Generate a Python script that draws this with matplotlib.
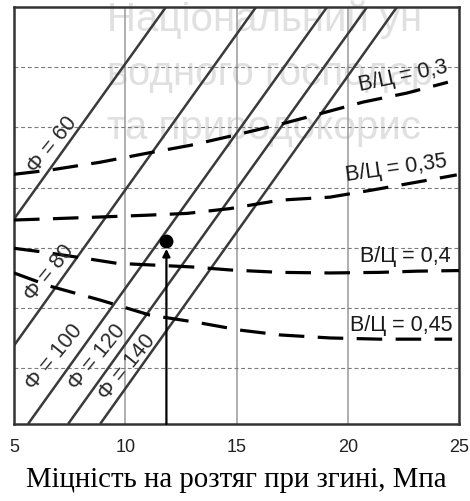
import matplotlib
matplotlib.use("Agg")
import matplotlib.pyplot as plt

# --- data -------------------------------------------------------------
x_ticks = [5, 10, 15, 20, 25]
x_tick_labels = ["5", "10", "15", "20", "25"]
y_grid = [1, 2, 3, 4, 5, 6]
x_lim = (5, 25)
y_lim = (0.07, 7.0)

# constant-Φ lines: x where each line meets the bottom and the top of the field
phi_labels = ["Φ = 60", "Φ = 80", "Φ = 100", "Φ = 120", "Φ = 140"]
phi_x_bottom = [-1.60, 2.48, 5.63, 7.43, 8.87]
phi_x_top = [11.83, 15.88, 19.07, 20.87, 22.21]
phi_label_x = [6.71, 6.60, 6.80, 8.73, 10.08]
phi_label_y = [4.70, 2.58, 1.18, 1.17, 1.02]

# water/cement ratio curves
wc_03_x = [5.0, 6.62, 8.87, 10.98, 12.91, 14.93, 16.96, 18.89, 20.69, 22.66, 24.5]
wc_03_y = [4.22, 4.29, 4.42, 4.57, 4.70, 4.87, 5.05, 5.24, 5.42, 5.57, 5.75]
wc_035_x = [5.0, 6.62, 8.87, 10.98, 12.78, 14.71, 16.96, 19.2, 21.13, 23.11, 24.9]
wc_035_y = [3.46, 3.48, 3.51, 3.54, 3.57, 3.65, 3.79, 3.84, 3.96, 4.09, 4.21]
wc_04_x = [5.0, 6.26, 8.42, 9.63, 11.34, 13.0, 14.71, 16.96, 19.2, 21.45, 23.11, 25.0]
wc_04_y = [2.99, 2.93, 2.81, 2.74, 2.71, 2.68, 2.63, 2.59, 2.58, 2.59, 2.61, 2.62]
wc_045_x = [5.0, 6.62, 8.87, 11.11, 13.36, 15.16, 16.96, 19.2, 21.45, 24.69]
wc_045_y = [2.58, 2.36, 2.13, 1.88, 1.75, 1.63, 1.55, 1.50, 1.48, 1.48]
wc_labels = ["В/Ц = 0,3", "В/Ц = 0,35", "В/Ц = 0,4", "В/Ц = 0,45"]
wc_label_x = [22.48, 22.17, 22.57, 22.39]
wc_label_y = [5.85, 4.31, 2.86, 1.71]
wc_label_rot = [12, 8, 0, 0]

# design point
point_x = 11.85
point_y = 3.11

x_label = "Міцність на розтяг при згині, Мпа"
watermark = ["Національний ун", "водного господар", "та природокорис"]

# --- figure -----------------------------------------------------------
W, H = 470, 501
fig = plt.figure(figsize=(W / 100, H / 100), dpi=100)
ax = fig.add_axes([14 / W, 77 / H, 445 / W, 417 / H])
ax.set_xlim(*x_lim)
ax.set_ylim(*y_lim)

# faint institutional watermark behind the chart
ax.set_facecolor("none")
for i, line in enumerate(watermark):
    fig.text(107 / W, 1 - (31 + 54 * i) / H, line, fontsize=29,
             family="Liberation Sans", color="#e0e0e0", va="baseline",
             ha="left", zorder=-5)

# grid: solid verticals, fine dashed horizontals
for xv in x_ticks[1:-1]:
    ax.axvline(xv, color="#9a9a9a", lw=1.1, zorder=1)
for yv in y_grid:
    ax.axhline(yv, color="#7a7a7a", lw=0.8, dashes=(3.5, 2.5), zorder=1)

# constant-Φ lines
for xb, xt in zip(phi_x_bottom, phi_x_top):
    ax.plot([xb, xt], [y_lim[0], y_lim[1]], color="#3a3a3a", lw=1.8,
            solid_capstyle="butt", zorder=2)
for lab, lx, ly in zip(phi_labels, phi_label_x, phi_label_y):
    ax.text(lx, ly, lab, fontsize=15.5, family="Liberation Sans", color="#2a2a2a",
            rotation=51, ha="center", va="center", rotation_mode="anchor", zorder=4)

# W/C curves
for xs, ys in [(wc_03_x, wc_03_y), (wc_035_x, wc_035_y),
               (wc_04_x, wc_04_y), (wc_045_x, wc_045_y)]:
    ax.plot(xs, ys, color="black", lw=2.3, dashes=(8.0, 4.2),
            solid_capstyle="butt", dash_capstyle="butt", zorder=3)
for lab, lx, ly, rot in zip(wc_labels, wc_label_x, wc_label_y, wc_label_rot):
    ax.text(lx, ly, lab, fontsize=15.5, family="Liberation Sans", color="#1a1a1a",
            rotation=rot, ha="center", va="center", rotation_mode="anchor", zorder=4)

# arrow from the x-axis up to the design point
ax.annotate("", xy=(point_x, point_y - 0.13), xytext=(point_x, y_lim[0]),
            arrowprops=dict(arrowstyle="-|>", color="black", lw=1.6,
                            mutation_scale=11, shrinkA=0, shrinkB=0),
            zorder=5)
ax.plot([point_x], [point_y], "o", color="black", ms=9, zorder=6)

# axes frame and ticks
for s in ax.spines.values():
    s.set_color("#333333")
    s.set_linewidth(1.8)
ax.set_xticks(x_ticks)
ax.set_xticklabels(x_tick_labels, fontsize=13, family="Liberation Sans", color="#222222")
ax.tick_params(axis="x", length=0, pad=11)
ax.set_yticks([])
ax.set_xlabel(x_label, fontsize=20.8, family="Liberation Serif", labelpad=8)

fig.savefig("out.png", dpi=100)
